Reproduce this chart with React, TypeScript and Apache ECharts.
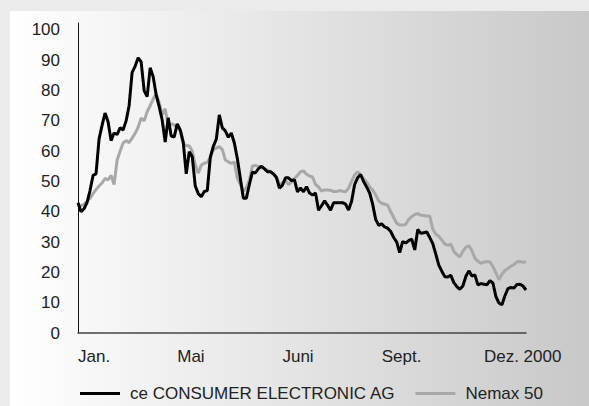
import React, { useEffect, useRef } from "react";
import * as echarts from "echarts";

// CE Consumer Electronic AG (indexed), one value per sample
const ceValues = [
  43, 40, 41, 43, 47, 52, 52.5, 64, 68.5, 72.6,
  69.7, 63.5, 66, 65.5, 67.7, 67, 70, 75, 86, 88,
  90.8, 89.5, 80, 78, 87.5, 84.6, 78.6, 74.7, 70.3, 63,
  71, 65, 64.7, 69, 67, 63, 52.5, 59.8, 58.2, 48.5,
  46, 45, 46.7, 47, 58, 61.6, 64, 72, 67.7, 66.7,
  64.6, 66, 62.7, 57.5, 51, 44.5, 44.5, 49, 53.1, 52.8,
  54.2, 55.1, 54.2, 53.2, 53.2, 52.5, 51.3, 47.8, 48.8, 51.2,
  51.2, 50.3, 50.5, 46.6, 47.9, 46.6, 48.3, 46.2, 45.5, 46.2,
  40.5, 42, 43.6, 42.2, 40.5, 43, 43, 43, 43, 42.5,
  40.6, 43.5, 49, 51.2, 52.3, 50, 48.2, 46.2, 42.5, 37.5,
  35.5, 36, 35, 34.6, 33.5, 31.5, 30, 26.5, 30.2, 29.7,
  30.5, 31, 27.4, 34.2, 32.9, 33.1, 33.3, 31.5, 29.5, 26,
  22.4, 20.4, 18.6, 18.5, 19, 16.6, 15.3, 14.4, 15.5, 18.7,
  20.5, 18.8, 19.2, 15.9, 16.3, 16.1, 15.9, 17.3, 16.5, 12,
  9.9, 9.3, 12.3, 14.7, 15, 14.8, 16, 16.1, 15.5, 14.2,
];

// Nemax 50 (indexed), same samples
const nemaxValues = [
  41.5, 42, 42.5, 43.5, 44.4, 46, 47.3, 48.5, 49.5, 51,
  50.5, 52, 49, 57, 60, 62.7, 63.5, 62.8, 64.3, 65.9,
  67.9, 70.9, 70, 73, 75, 77.2, 79, 76, 72, 74,
  68.3, 69.1, 68.6, 68.1, 66.8, 62.5, 61.8, 61.8, 60, 55.5,
  52.7, 55.4, 56, 56.3, 58, 60.5, 61, 61.5, 60.5, 57.1,
  56.5, 56, 56.4, 51, 49, 46.8, 48, 50.5, 55.1, 55.3,
  55, 54.6, 54.2, 53.8, 53.3, 52.5, 51.5, 49, 49.5, 50.3,
  49, 49.8, 51, 52, 53.2, 53.5, 52.4, 51.8, 51.5, 49,
  48.2, 46.8, 47.2, 47.2, 47.1, 46.7, 46.7, 47, 46.8, 46.6,
  47.8, 50, 52.2, 53.2, 52.3, 50.8, 49.8, 48.3, 47.2, 45.6,
  43.6, 42.8, 42.5, 42.2, 40, 38.1, 36.2, 35.6, 35.6, 35.8,
  37.5, 38.4, 39.1, 39.4, 38.9, 38.8, 38.6, 38.6, 34.3, 32.6,
  31.9, 30.7, 29.3, 29, 29.3, 27, 25.8, 25.2, 26.9, 28.3,
  28.8, 27.2, 24.7, 23.7, 23, 23.4, 23.5, 23.5, 21.9, 19.8,
  17.6, 19.4, 20.6, 21.3, 22, 22.6, 23.5, 23.6, 23.3, 23.5,
];

// x-axis tick labels and the sample index where each one sits
const monthLabels = ["Jan.", "Mai", "Juni", "Sept.", "Dez. 2000"];
const monthIndex = [0, 33, 68, 101, 135];

const seriesNames = ["ce CONSUMER ELECTRONIC AG", "Nemax 50"];

const categories = ceValues.map((_, i) => String(i));

export default function App() {
  const ref = useRef<HTMLDivElement>(null);

  useEffect(() => {
    if (!ref.current) return;
    const chart = echarts.init(ref.current, null, { renderer: "svg" });
    const font = "'Liberation Sans', Arial, Helvetica, sans-serif";
    chart.setOption({
      animation: false,
      backgroundColor: "#ebebeb",
      graphic: [
        {
          type: "rect",
          left: 10,
          top: 11,
          z: -10,
          silent: true,
          shape: { width: 579, height: 395 },
          style: {
            fill: new echarts.graphic.LinearGradient(0, 0, 1, 0, [
              { offset: 0, color: "#ffffff" },
              { offset: 1, color: "#c8c8c8" },
            ]),
          },
        },
      ],
      grid: { left: 78, right: 63, top: 23, bottom: 73 },
      legend: {
        left: 80,
        top: 385,
        padding: 0,
        icon: "rect",
        itemWidth: 40,
        itemHeight: 3,
        itemGap: 20,
        data: seriesNames,
        textStyle: { fontSize: 17, color: "#222", fontFamily: font, padding: [0, 0, 0, 5] },
      },
      xAxis: {
        type: "category",
        data: categories,
        boundaryGap: false,
        axisLine: { show: true, lineStyle: { color: "#444", width: 1.5 } },
        axisTick: { show: false },
        splitLine: { show: false },
        axisLabel: {
          interval: (idx: number) => monthIndex.indexOf(idx) >= 0,
          formatter: (_v: string, idx: number) => {
            const k = monthIndex.indexOf(idx);
            return k >= 0 ? monthLabels[k] : "";
          },
          align: "left",
          margin: 15,
          fontSize: 17,
          color: "#222",
          fontFamily: font,
        },
      },
      yAxis: {
        type: "value",
        min: 0,
        max: 102.3,
        interval: 10,
        axisLine: { show: true, lineStyle: { color: "#111", width: 1 } },
        axisTick: { show: false },
        splitLine: { show: false },
        axisLabel: {
          formatter: (v: number) => (Math.abs(v % 10) < 1e-6 ? String(v) : ""),
          margin: 18,
          fontSize: 17,
          color: "#222",
          fontFamily: font,
        },
      },
      series: [
        {
          name: seriesNames[1],
          type: "line",
          data: nemaxValues,
          symbol: "none",
          showSymbol: false,
          z: 2,
          lineStyle: { color: "#a8a8a8", width: 3 },
          itemStyle: { color: "#a8a8a8" },
        },
        {
          name: seriesNames[0],
          type: "line",
          data: ceValues,
          symbol: "none",
          showSymbol: false,
          z: 3,
          lineStyle: { color: "#000", width: 3 },
          itemStyle: { color: "#000" },
        },
      ],
    });
    return () => chart.dispose();
  }, []);

  return (
    <div
      ref={ref}
      style={{ position: "fixed", left: 0, top: 0, width: 589, height: 406 }}
    />
  );
}
